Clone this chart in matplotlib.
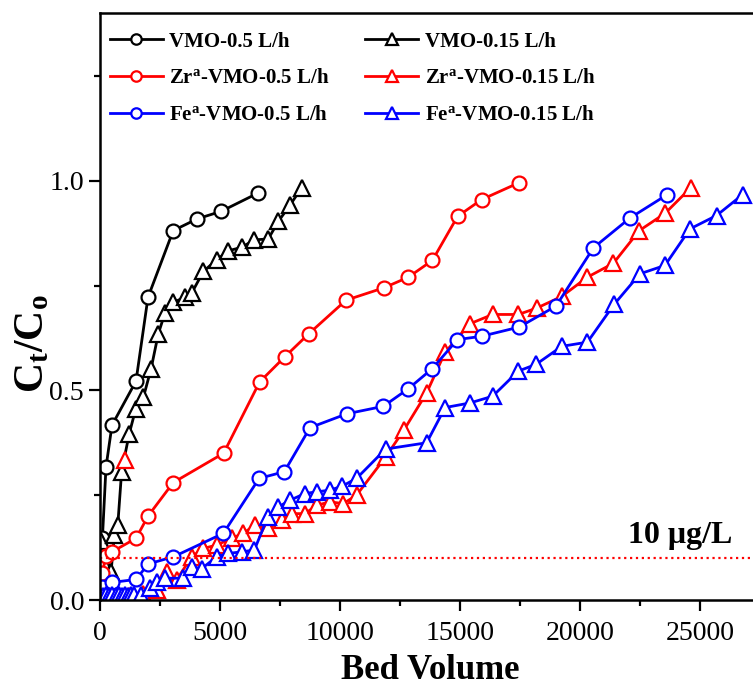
import matplotlib
matplotlib.use('Agg')
import matplotlib.pyplot as plt
from matplotlib.ticker import MultipleLocator

plt.rcParams['font.family'] = 'Liberation Serif'
plt.rcParams['mathtext.fontset'] = 'custom'
plt.rcParams['mathtext.rm'] = 'Liberation Serif:bold'
plt.rcParams['mathtext.bf'] = 'Liberation Serif:bold'
plt.rcParams['mathtext.it'] = 'Liberation Serif:bold'

# VMO-0.5 L/h
vmo05_x = [100, 250, 500, 1500, 2000, 3050, 4050, 5050, 6600]
vmo05_y = [0.147, 0.317, 0.417, 0.522, 0.722, 0.881, 0.909, 0.927, 0.971]

# VMO-0.15 L/h
vmo015_x = [50, 460, 600, 740, 900, 1220, 1490, 1810, 2130, 2430, 2710, 3060,
            3540, 3820, 4310, 4860, 5350, 5900, 6430, 7010, 7430, 7920, 8400]
vmo015_y = [0.14, 0.067, 0.155, 0.178, 0.306, 0.397, 0.456, 0.484, 0.552, 0.635, 0.685, 0.710,
            0.722, 0.732, 0.784, 0.811, 0.833, 0.841, 0.859, 0.861, 0.903, 0.942, 0.983]

# Zr-VMO-0.5 L/h
zr05_x = [100, 250, 500, 1500, 2000, 3050, 5150, 6650, 7700, 8700, 10250,
          11850, 12850, 13850, 14900, 15900, 17450]
zr05_y = [0.065, 0.105, 0.115, 0.147, 0.20, 0.28, 0.35, 0.52, 0.58, 0.635, 0.715,
          0.745, 0.77, 0.81, 0.915, 0.955, 0.995]

# Zr-VMO-0.15 L/h
zr015_x = [0, 600, 1200, 1800, 2360, 2780, 3190, 3820, 4310, 4860, 5490, 5970, 6460,
           7010, 7570, 7990, 8540, 9030, 9580, 10140, 10690, 11900, 12670, 13610,
           14380, 15420, 16360, 17430, 18190, 19240, 20310, 21390, 22470, 23540, 24610]
zr015_y = [0.005, 0.008, 0.010, 0.015, 0.024, 0.067, 0.048, 0.103, 0.123, 0.131, 0.147, 0.159, 0.179,
           0.171, 0.190, 0.206, 0.206, 0.226, 0.234, 0.230, 0.25, 0.341, 0.406, 0.494,
           0.591, 0.659, 0.681, 0.681, 0.696, 0.724, 0.770, 0.803, 0.881, 0.922, 0.983]
zr015_extra_x = [1040]
zr015_extra_y = [0.333]

# Fe-VMO-0.5 L/h
fe05_x = [100, 500, 1500, 2010, 3060, 5140, 6630, 7680, 8750, 10280, 11810,
          12850, 13850, 14890, 15900, 17470, 19000, 20560, 22080, 23640]
fe05_y = [0.030, 0.042, 0.049, 0.086, 0.103, 0.159, 0.290, 0.306, 0.411, 0.444, 0.462,
          0.504, 0.552, 0.621, 0.629, 0.651, 0.701, 0.840, 0.911, 0.967]

# Fe-VMO-0.15 L/h
fe015_x = [0, 130, 260, 390, 520, 650, 780, 910, 1040, 1170, 1300, 1430, 1700,
           2080, 2360, 2710, 3470, 3820, 4240, 4860, 5350, 5900, 6430, 6990,
           7430, 7920, 8540, 9030, 9580, 10070, 10690, 11900, 13610, 14380, 15420,
           16360, 17430, 18170, 19240, 20310, 21420, 22500, 23540, 24580, 25690, 26780]
fe015_y = [0.010, 0.010, 0.011, 0.010, 0.011, 0.010, 0.011, 0.010, 0.011, 0.010, 0.011, 0.012, 0.012,
           0.028, 0.044, 0.052, 0.052, 0.079, 0.075, 0.103, 0.111, 0.115, 0.119, 0.198,
           0.222, 0.238, 0.254, 0.258, 0.262, 0.271, 0.290, 0.360, 0.375, 0.459, 0.470,
           0.486, 0.546, 0.562, 0.605, 0.615, 0.705, 0.778, 0.798, 0.885, 0.917, 0.967]

limit_y = 0.1

fig = plt.figure(figsize=(7.53, 6.88), dpi=100)
ax = fig.add_axes([100 / 753, 88 / 688, 660 / 753, 587 / 688])

lw = 2.0
mew = 1.6
circ = dict(marker='o', markersize=10, markerfacecolor='white', markeredgewidth=mew, linewidth=lw)
tri = dict(marker='^', markersize=11, markerfacecolor='white', markeredgewidth=mew, linewidth=lw)

h1, = ax.plot(vmo05_x, vmo05_y, color='black', label='VMO-0.5 L/h', **circ)
h4, = ax.plot(vmo015_x, vmo015_y, color='black', label='VMO-0.15 L/h', **tri)
h2, = ax.plot(zr05_x, zr05_y, color='red', label='Zr$^{a}$-VMO-0.5 L/h', **circ)
h5, = ax.plot(zr015_x, zr015_y, color='red', label='Zr$^{a}$-VMO-0.15 L/h', **tri)
ax.plot(zr015_extra_x, zr015_extra_y, color='red', linestyle='none', **tri)
h3, = ax.plot(fe05_x, fe05_y, color='blue', label='Fe$^{a}$-VMO-0.5 L/h', **circ)
h6, = ax.plot(fe015_x, fe015_y, color='blue', label='Fe$^{a}$-VMO-0.15 L/h', **tri)

ax.axhline(limit_y, color='red', linestyle=':', linewidth=1.6)
ax.text(22000, 0.136, '10 μg/L', fontsize=23, fontweight='bold', ha='left', va='baseline')

ax.set_xlim(0, 27500)
ax.set_ylim(0, 1.4)
ax.xaxis.set_major_locator(MultipleLocator(5000))
ax.xaxis.set_minor_locator(MultipleLocator(2500))
ax.yaxis.set_major_locator(MultipleLocator(0.5))
ax.yaxis.set_minor_locator(MultipleLocator(0.25))
ax.yaxis.set_major_formatter(plt.FormatStrFormatter('%.1f'))
ax.tick_params(which='major', direction='out', length=8, width=1.6, labelsize=20)
ax.tick_params(axis='x', which='major', pad=7)
ax.tick_params(which='minor', direction='out', length=4.5, width=1.6)
for s in ax.spines.values():
    s.set_linewidth(1.8)

ax.set_xlabel('Bed Volume', fontsize=25, fontweight='bold', labelpad=6)
ax.set_ylabel('C$_{t}$/C$_{o}$', fontsize=30, fontweight='bold')
ax.yaxis.set_label_coords(-0.072, 0.436)

ax.legend(handles=[h1, h2, h3, h4, h5, h6], ncol=2, frameon=False, loc='upper left',
          bbox_to_anchor=(0.015, 0.968), borderpad=0, borderaxespad=0,
          prop={'size': 15, 'weight': 'bold'}, handlelength=2.55, handletextpad=0.3,
          columnspacing=1.7, labelspacing=0.8, markerscale=0.75)

fig.savefig('out.png', dpi=100)
